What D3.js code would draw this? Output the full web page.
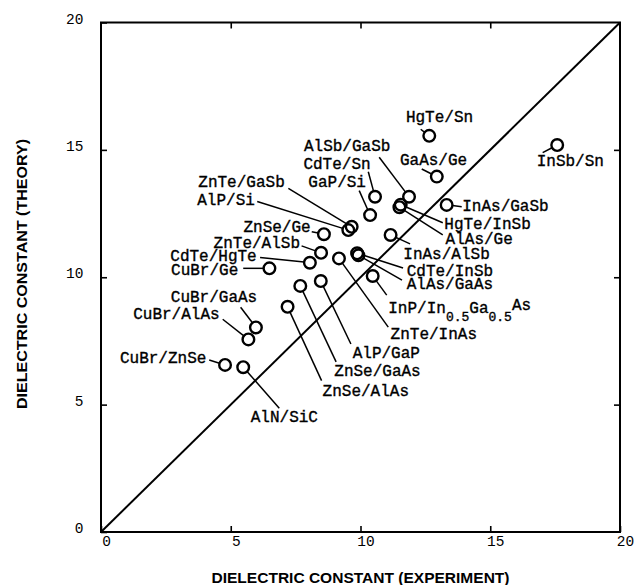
<!DOCTYPE html>
<html>
<head>
<meta charset="utf-8">
<script src="https://cdn.jsdelivr.net/npm/d3@7"></script>
<style>
  html, body { margin: 0; padding: 0; background: #fff; }
  svg { display: block; }
</style>
</head>
<body>
<svg id="chart" width="636" height="585"></svg>
<script>
// Heterojunction pairs: measured vs. calculated dielectric constant
const pairs = [
  "HgTe/Sn", "InSb/Sn", "GaAs/Ge", "AlSb/GaSb", "CdTe/Sn", "GaP/Si",
  "InAs/GaSb", "HgTe/InSb", "AlAs/Ge", "ZnTe/GaSb", "AlP/Si", "ZnSe/Ge",
  "InAs/AlSb", "ZnTe/AlSb", "CdTe/HgTe", "CuBr/Ge", "CdTe/InSb", "AlAs/GaAs",
  "InP/In_{0.5}Ga_{0.5}As", "ZnTe/InAs", "AlP/GaP", "ZnSe/GaAs", "ZnSe/AlAs",
  "CuBr/GaAs", "CuBr/AlAs", "CuBr/ZnSe", "AlN/SiC"
];
const experiment = [
  12.65, 17.58, 12.94, 11.87, 10.56, 10.37,
  13.32, 11.55, 11.50, 9.66, 9.53, 8.59,
  11.16, 8.48, 8.05, 6.49, 9.87, 9.92,
  10.47, 9.17, 8.47, 7.68, 7.19,
  5.97, 5.68, 4.78, 5.48
];
const theory = [
  15.55, 15.19, 13.95, 13.16, 13.16, 12.44,
  12.84, 12.85, 12.75, 11.98, 11.85, 11.69,
  11.66, 10.96, 10.57, 10.35, 10.94, 10.86,
  10.05, 10.74, 9.85, 9.66, 8.84,
  8.03, 7.56, 6.56, 6.47
];
const xTicks = [0, 5, 10, 15, 20];
const yTicks = [0, 5, 10, 15, 20];
const xTitle = "DIELECTRIC CONSTANT (EXPERIMENT)";
const yTitle = "DIELECTRIC CONSTANT (THEORY)";

// Label layout in axis units: [text x, text baseline y, leader end x, leader end y]
const labelAt = [
  [11.75, 16.09, 12.32, 15.81],
  [16.79, 14.37, 17.02, 14.89],
  [11.52, 14.41, 12.36, 14.25],
  [7.82, 14.94, 10.72, 14.71],
  [7.80, 14.24, 10.30, 14.14],
  [7.99, 13.55, 9.95, 13.40],
  [13.92, 12.61, 13.90, 12.77],
  [13.23, 11.90, 13.17, 12.14],
  [13.28, 11.29, 13.17, 11.66],
  [3.75, 13.55, 7.22, 13.49],
  [3.71, 12.84, 6.02, 12.97],
  [5.49, 11.76, 8.12, 11.79],
  [11.65, 10.72, 11.91, 11.31],
  [4.34, 11.15, 7.73, 11.23],
  [2.67, 10.63, 6.13, 10.78],
  [2.70, 10.09, 5.48, 10.35],
  [11.78, 10.04, 11.64, 10.36],
  [11.78, 9.53, 11.60, 9.89],
  [11.07, 8.61, 11.01, 9.30],
  [11.16, 7.59, 11.07, 8.04],
  [9.70, 6.84, 9.63, 7.38],
  [8.99, 6.12, 9.06, 6.68],
  [8.54, 5.34, 8.50, 5.94],
  [2.69, 9.03, 5.38, 8.82],
  [1.24, 8.35, 4.69, 8.35],
  [0.73, 6.62, 4.17, 6.75],
  [5.77, 4.32, 6.87, 4.86]
];

const svg = d3.select("#chart");
const x = d3.scaleLinear().domain([0, 20]).range([101, 620]);
const y = d3.scaleLinear().domain([0, 20]).range([532, 22.5]);
const R = 5.8;
const monoFont = "'Liberation Mono', 'DejaVu Sans Mono', monospace";

// Frame
svg.append("rect")
  .attr("x", x(0)).attr("y", y(20))
  .attr("width", x(20) - x(0)).attr("height", y(0) - y(20))
  .attr("fill", "none").attr("stroke", "#000").attr("stroke-width", 2);

// Inward ticks on all four sides
const tickStyle = g => {
  g.select(".domain").remove();
  g.selectAll(".tick line").attr("stroke", "#000").attr("stroke-width", 1.6);
};
const inner = [5, 10, 15];
svg.append("g").attr("transform", `translate(0,${y(0)})`)
  .call(d3.axisBottom(x).tickValues(xTicks).tickSize(-6).tickFormat(d3.format("d")))
  .call(tickStyle)
  .call(g => g.selectAll(".tick text")
    .attr("x", 5).attr("y", 13.5).attr("dy", 0)
    .attr("font-family", monoFont).attr("font-size", 14.5).attr("fill", "#000"));
svg.append("g").attr("transform", `translate(0,${y(20)})`)
  .call(d3.axisTop(x).tickValues(inner).tickSize(-6).tickFormat(""))
  .call(tickStyle);
svg.append("g").attr("transform", `translate(${x(0)},0)`)
  .call(d3.axisLeft(y).tickValues(yTicks).tickSize(-6).tickFormat(d3.format("d")))
  .call(tickStyle)
  .call(g => g.selectAll(".tick text")
    .attr("x", -17.5).attr("dy", 0.5).attr("text-anchor", "end")
    .attr("font-family", monoFont).attr("font-size", 14.5).attr("fill", "#000"));
svg.append("g").attr("transform", `translate(${x(20)},0)`)
  .call(d3.axisRight(y).tickValues(inner).tickSize(-6).tickFormat(""))
  .call(tickStyle);

// Line of perfect agreement
svg.append("line")
  .attr("x1", x(0)).attr("y1", y(0)).attr("x2", x(20)).attr("y2", y(20))
  .attr("stroke", "#000").attr("stroke-width", 2);

const data = pairs.map((name, i) => ({
  name, ex: experiment[i], th: theory[i],
  tx: labelAt[i][0], ty: labelAt[i][1], lx: labelAt[i][2], ly: labelAt[i][3]
}));

// Leader lines from circle edge to label
svg.append("g").selectAll("line").data(data).join("line")
  .each(function (d) {
    const cx = x(d.ex), cy = y(d.th), ex = x(d.lx), ey = y(d.ly);
    const dx = ex - cx, dy = ey - cy, len = Math.hypot(dx, dy) || 1;
    d3.select(this)
      .attr("x1", cx + dx / len * R).attr("y1", cy + dy / len * R)
      .attr("x2", ex).attr("y2", ey);
  })
  .attr("stroke", "#000").attr("stroke-width", 1.5);

// Open circle markers
svg.append("g").selectAll("circle").data(data).join("circle")
  .attr("cx", d => x(d.ex)).attr("cy", d => y(d.th)).attr("r", R)
  .attr("fill", "none").attr("stroke", "#000").attr("stroke-width", 2.4);

// Labels (with subscript support: "_{...}")
const labels = svg.append("g")
  .attr("font-family", monoFont).attr("font-size", 16).attr("fill", "#000")
  .attr("stroke", "#000").attr("stroke-width", 0.35);
data.forEach(d => {
  const t = labels.append("text").attr("x", x(d.tx)).attr("y", y(d.ty));
  const parts = d.name.split(/(_\{[^}]*\})/).filter(s => s.length);
  let shifted = false;
  parts.forEach((p, k) => {
    if (p.startsWith("_{")) {
      t.append("tspan").attr("dy", 8).attr("font-size", 13).text(p.slice(2, -1));
      shifted = true;
    } else {
      const last = k === parts.length - 1 && k > 0;
      t.append("tspan").attr("dy", shifted ? (last ? -11 : -8) : 0).text(p);
      shifted = false;
    }
  });
});

// Axis titles
svg.append("text")
  .attr("x", (x(0) + x(20)) / 2).attr("y", 582.5)
  .attr("text-anchor", "middle")
  .attr("font-family", "'Liberation Sans', Arial, sans-serif")
  .attr("font-weight", "bold").attr("font-size", 14)
  .attr("textLength", 298).attr("lengthAdjust", "spacingAndGlyphs")
  .text(xTitle);
svg.append("text")
  .attr("transform", `translate(26.5,${274}) rotate(-90)`)
  .attr("text-anchor", "middle")
  .attr("font-family", "'Liberation Sans', Arial, sans-serif")
  .attr("font-weight", "bold").attr("font-size", 14)
  .attr("textLength", 270).attr("lengthAdjust", "spacingAndGlyphs")
  .text(yTitle);
</script>
</body>
</html>
